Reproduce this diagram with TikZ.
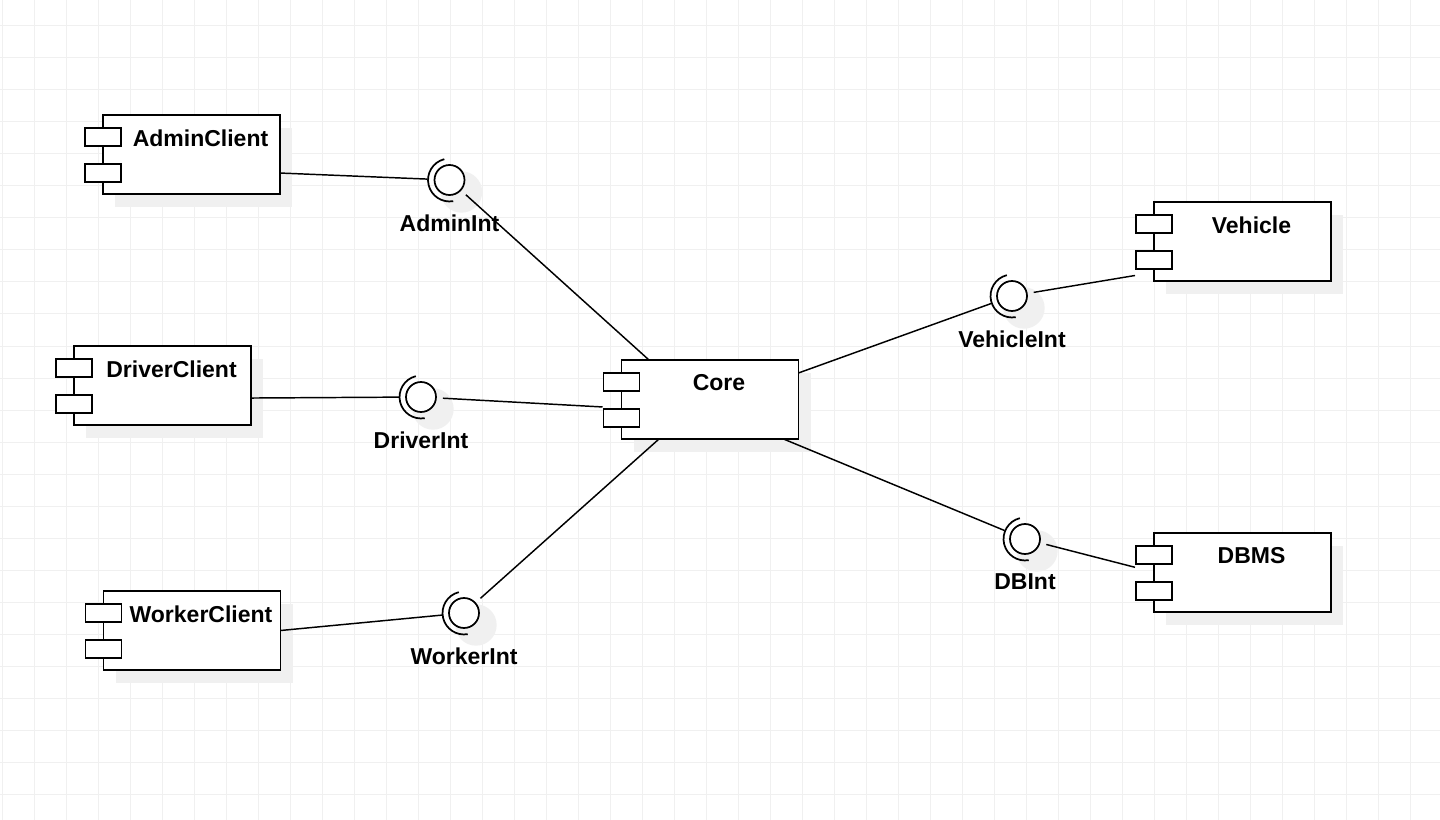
\documentclass[tikz,border=0pt]{standalone}
\usepackage{fontspec}
\setmainfont{Liberation Sans}
\usetikzlibrary{shadows,calc}
\definecolor{gridc}{RGB}{240,240,240}
\definecolor{shadowc}{RGB}{240,240,240}
\begin{document}
\begin{tikzpicture}[x=0.75pt,y=-0.75pt,
  comp/.style={draw=black, line width=1.4pt, fill=white, minimum width=132.75pt, minimum height=59.25pt, inner sep=0pt, outer sep=0pt,
    general shadow={fill=shadowc, draw=none, shadow xshift=9pt, shadow yshift=-9.75pt}},
  port/.style={draw=black, line width=1.2pt, fill=white},
  lbl/.style={font=\fontsize{17.25}{20}\selectfont\bfseries, inner sep=0pt},
  iface/.style={circle, minimum size=33pt, inner sep=0pt, outer sep=0pt},
  conn/.style={line width=1.1pt},
  ballst/.style={line width=1.3pt},
]
\fill[white] (0,0) rectangle (1440,820);
\useasboundingbox (0,0) rectangle (1440,820);
\foreach \i in {0,...,44} \draw[gridc, line width=0.75pt] ({2.7+32*\i},0) -- ({2.7+32*\i},820);
\foreach \j in {0,...,25} \draw[gridc, line width=0.75pt] (0,{26+32*\j}) -- (1440,{26+32*\j});

% components
\node[comp] (ac) at (191.5,154.5) {};
\node[comp] (dc) at (162.5,385.5) {};
\node[comp] (wc) at (192,630.5) {};
\node[comp] (core) at (710,399.5) {};
\node[comp] (veh) at (1242.5,241.5) {};
\node[comp] (db) at (1242.5,572.5) {};
\foreach \n in {ac,dc,wc,core,veh,db}{
  \draw[port] ([shift={(-13.5pt,6.375pt)}]\n.west) rectangle ([shift={(13.5pt,19.875pt)}]\n.west);
  \draw[port] ([shift={(-13.5pt,-7.125pt)}]\n.west) rectangle ([shift={(13.5pt,-20.625pt)}]\n.west);
}
\node[lbl] (acT) at ([shift={(6.75pt,12.4pt)}]ac.center) {AdminClient};
\node[lbl] (dcT) at ([shift={(6.75pt,12.4pt)}]dc.center) {DriverClient};
\node[lbl] (wcT) at ([shift={(6.75pt,12.4pt)}]wc.center) {WorkerClient};
\node[lbl] (coreT) at ([shift={(6.75pt,12.4pt)}]core.center) {Core};
\node[lbl] (vehT) at ([shift={(6.75pt,12.4pt)}]veh.center) {Vehicle};
\node[lbl] (dbT) at ([shift={(6.75pt,12.4pt)}]db.center) {DBMS};

% interfaces
\node[iface] (ai) at (449.5,180) {};
\node[iface] (di) at (421,397) {};
\node[iface] (wi) at (464,613) {};
\node[iface] (vi) at (1012,296) {};
\node[iface] (dbi) at (1025,539) {};
\foreach \n in {ai,di,wi,vi,dbi}{
  \fill[shadowc] ([shift={(9pt,-9pt)}]\n.center) circle[radius=15.5pt];
}

% connectors
\draw[conn] ([yshift=-13.9pt]ac.east) -- (ai);
\draw[conn] (ai) -- ([xshift=-45.75pt]core.north);
\draw[conn] ([yshift=-9.4pt]dc.east) -- (di);
\draw[conn] (di) -- ([shift={(-14.25pt,-5.6pt)}]core.west);
\draw[conn] ([xshift=-38.25pt]core.south) -- (wi);
\draw[conn] (wc.east) -- (wi);
\draw[conn] ([yshift=19.9pt]core.east) -- (vi);
\draw[conn] (vi) -- ([shift={(-14.25pt,-25.5pt)}]veh.west);
\draw[conn] ([xshift=-11.25pt]core.south east) -- (dbi);
\draw[conn] (dbi) -- ([shift={(-14.25pt,3.9pt)}]db.west);

\foreach \n in {ai,di,wi,vi,dbi}{
  \draw[ballst, fill=white] (\n.center) circle[radius=11.25pt];
  \draw[ballst] ([shift={(104:16.1pt)}]\n.center) arc[start angle=104,end angle=280,radius=16.1pt];
}
\node[lbl] (aiT) at ([yshift=-32.25pt]ai.center) {AdminInt};
\node[lbl] (diT) at ([yshift=-32.25pt]di.center) {DriverInt};
\node[lbl] (wiT) at ([yshift=-32.25pt]wi.center) {WorkerInt};
\node[lbl] (viT) at ([yshift=-32.25pt]vi.center) {VehicleInt};
\node[lbl] (dbiT) at ([yshift=-32.25pt]dbi.center) {DBInt};
\end{tikzpicture}
\end{document}
